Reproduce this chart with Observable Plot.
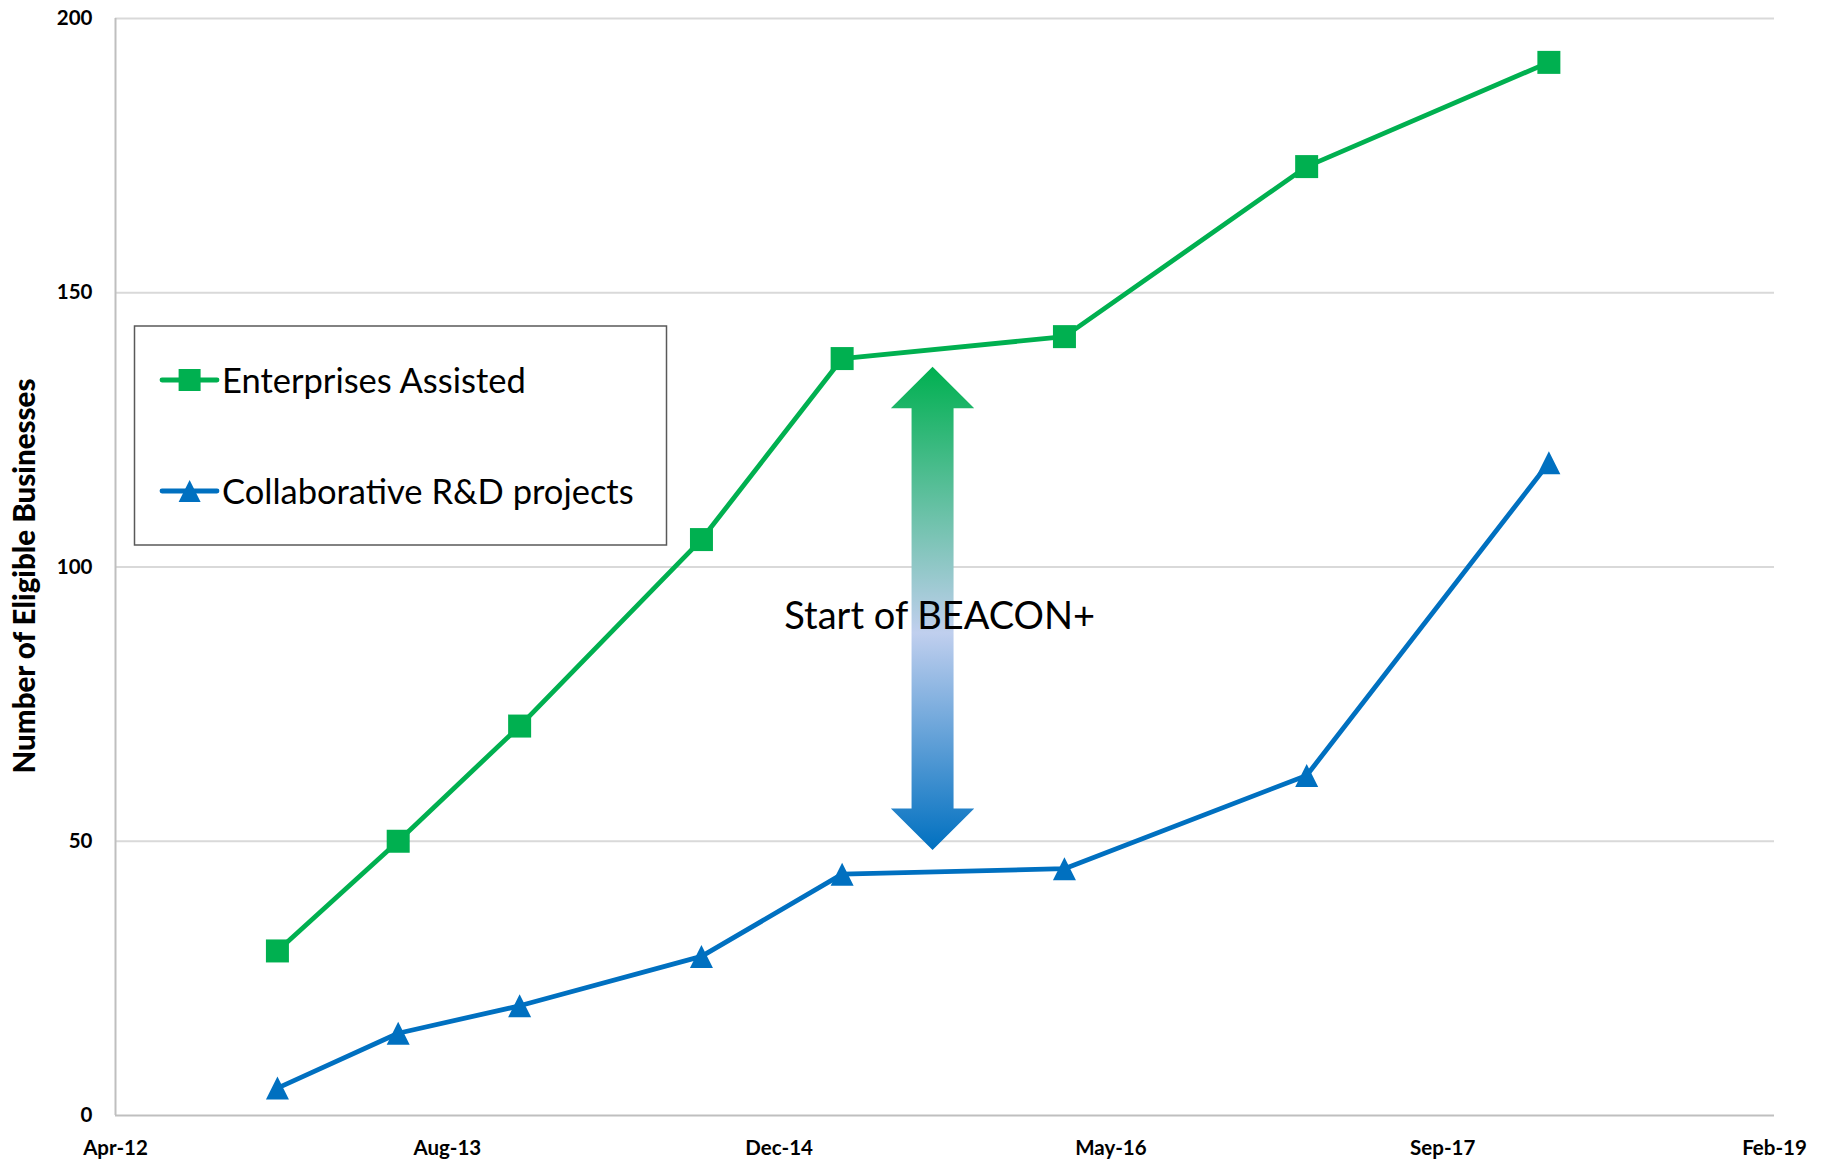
<!DOCTYPE html>
<html><head><meta charset="utf-8">
<script src="https://cdn.jsdelivr.net/npm/d3@7"></script>
<script src="https://cdn.jsdelivr.net/npm/@observablehq/plot@0.6"></script>
<style>
html,body{margin:0;padding:0;background:#fff;}
#chart{width:1825px;height:1161px;position:relative;}
</style></head>
<body><div id="chart"></div>
<script>
// ---- data ----
const dates = ["2012-12-01","2013-06-01","2013-12-01","2014-09-01","2015-04-01","2016-03-01","2017-03-01","2018-03-01"];
const enterprisesAssisted = [30, 50, 71, 105, 138, 142, 173, 192];
const collaborativeRD = [5, 15, 20, 29, 44, 45, 62, 119];
const seriesNames = ["Enterprises Assisted", "Collaborative R&D projects"];
const seriesColors = ["#00B050", "#0070C0"];
const xDomainDates = ["2012-04-01", "2019-02-04"];
const xTickDates = ["2012-04-01","2013-08-14","2014-12-27","2016-05-10","2017-09-22","2019-02-04"];
const yTicks = [0, 50, 100, 150, 200];
const yTitle = "Number of Eligible Businesses";
const annotationText = ["Start of BEACON+"];
const annotationDate = ["2015-08-26"];
const annotationValue = [91];
const arrowDate = "2015-08-16";
const arrowRange = [48.3, 136.4];

const parse = d3.utcParse("%Y-%m-%d");
const seriesValues = [enterprisesAssisted, collaborativeRD];
const rows = [];
seriesNames.forEach((s, k) => dates.forEach((d, i) => rows.push({date: parse(d), value: seriesValues[k][i], series: s})));
const annos = annotationText.map((t, i) => ({text: t, date: parse(annotationDate[i]), value: annotationValue[i]}));

const squareSym = {draw(ctx, size) { const r = Math.sqrt(size / Math.PI); ctx.rect(-r, -r, 2 * r, 2 * r); }};
const triSym = {draw(ctx, size) { const r = Math.sqrt(size / Math.PI); ctx.moveTo(0, -r); ctx.lineTo(r, r); ctx.lineTo(-r, r); ctx.closePath(); }};
const symbols = [squareSym, triSym];

const chart = Plot.plot({
  width: 1825, height: 1161,
  marginLeft: 115, marginRight: 51, marginTop: 18, marginBottom: 46,
  style: {fontFamily: "Lato", fontSize: "20.5px", fontWeight: "bold", color: "black", background: "white", overflow: "visible"},
  x: {type: "utc", domain: xDomainDates.map(parse), ticks: xTickDates.map(parse), tickFormat: d3.utcFormat("%b-%y"), tickSize: 0, tickPadding: 25, label: null},
  y: {domain: [0, 200], ticks: yTicks, tickSize: 0, tickPadding: 23, label: null},
  marks: [
    Plot.ruleY(yTicks.slice(1), {stroke: "#D9D9D9", strokeWidth: 2}),
    Plot.ruleY([0], {stroke: "#BFBFBF", strokeWidth: 2}),
    Plot.ruleX([parse(xDomainDates[0])], {stroke: "#BFBFBF", strokeWidth: 2}),
    ...seriesNames.map((s, k) => Plot.line(rows.filter(r => r.series === s), {x: "date", y: "value", stroke: seriesColors[k], strokeWidth: 4.8})),
    ...seriesNames.map((s, k) => Plot.dot(rows.filter(r => r.series === s), {x: "date", y: "value", fill: seriesColors[k], stroke: "none", r: 11.5, symbol: symbols[k]})),
    Plot.text(annos, {x: "date", y: "value", text: "text", fontSize: 38, fontWeight: "normal", fill: "black", textAnchor: "middle", lineAnchor: "middle", fontFamily: "Lato"})
  ]
});
document.getElementById("chart").appendChild(chart);

const svg = d3.select(chart);
const sx = chart.scale("x"), sy = chart.scale("y");

// gradient arrow (drawn beneath the annotation text)
const defs = svg.insert("defs", ":first-child");
const grad = defs.append("linearGradient").attr("id", "arrowGrad").attr("x1", 0).attr("y1", 0).attr("x2", 0).attr("y2", 1);
grad.append("stop").attr("offset", "0").attr("stop-color", "#00B050");
grad.append("stop").attr("offset", "0.55").attr("stop-color", "#C0CFEE");
grad.append("stop").attr("offset", "1").attr("stop-color", "#0070C0");
const ax = sx.apply(parse(arrowDate));
const yTop = sy.apply(arrowRange[1]), yBot = sy.apply(arrowRange[0]);
const head = 41.5, hw = 41.7, sw = 21;
const pts = [[ax,yTop],[ax+hw,yTop+head],[ax+sw,yTop+head],[ax+sw,yBot-head],[ax+hw,yBot-head],[ax,yBot],[ax-hw,yBot-head],[ax-sw,yBot-head],[ax-sw,yTop+head],[ax-hw,yTop+head]];
const textG = chart.querySelector('g[aria-label="text"]');
const arrowG = document.createElementNS("http://www.w3.org/2000/svg", "g");
chart.insertBefore(arrowG, textG);
d3.select(arrowG).append("polygon").attr("points", pts.map(p => p.join(",")).join(" ")).attr("fill", "url(#arrowGrad)");

// y-axis title
svg.append("text").attr("transform", "translate(35,576) rotate(-90)").attr("text-anchor", "middle")
  .attr("font-family", "Lato").attr("font-weight", "900").attr("font-size", 29.5).attr("fill", "black").text(yTitle);

// legend
const lg = svg.append("g");
lg.append("rect").attr("x", 134.5).attr("y", 326).attr("width", 532).attr("height", 219).attr("fill", "white").attr("stroke", "#595959").attr("stroke-width", 1.5);
const legY = [380, 491];
seriesNames.forEach((s, k) => {
  const y = legY[k];
  lg.append("line").attr("x1", 162).attr("x2", 217).attr("y1", y).attr("y2", y).attr("stroke", seriesColors[k]).attr("stroke-width", 4.8).attr("stroke-linecap", "round");
  lg.append("path").attr("transform", `translate(189.6,${y})`).attr("d", d3.symbol(symbols[k], Math.PI * 11 * 11)()).attr("fill", seriesColors[k]);
  lg.append("text").attr("x", 222).attr("y", y + 12.5).attr("text-anchor", "start").attr("font-family", "Lato").attr("font-size", 34.5).attr("font-weight", "normal").attr("fill", "black").text(s);
});
</script>
</body></html>
